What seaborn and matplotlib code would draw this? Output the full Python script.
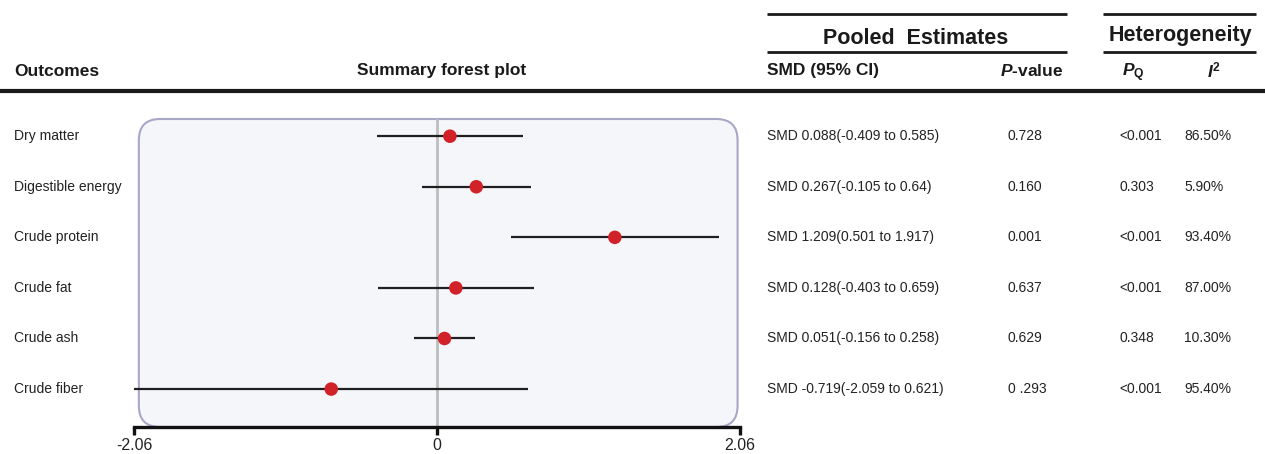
import matplotlib
matplotlib.use("Agg")
import matplotlib.pyplot as plt
from matplotlib.lines import Line2D
from matplotlib.patches import FancyBboxPatch
import matplotlib.transforms as mtransforms
import numpy as np
import pandas as pd
import seaborn as sns

# ---- data ----
outcomes = ["Dry matter", "Digestible energy", "Crude protein",
            "Crude fat", "Crude ash", "Crude fiber"]
smd = [0.088, 0.267, 1.209, 0.128, 0.051, -0.719]
ci_lower = [-0.409, -0.105, 0.501, -0.403, -0.156, -2.059]
ci_upper = [0.585, 0.64, 1.917, 0.659, 0.258, 0.621]
p_values = ["0.728", "0.160", "0.001", "0.637", "0.629", "0 .293"]
p_q = ["<0.001", "0.303", "<0.001", "<0.001", "0.348", "<0.001"]
i_squared = ["86.50%", "5.90%", "93.40%", "87.00%", "10.30%", "95.40%"]
axis_limit = 2.06
axis_ticks = [-2.06, 0, 2.06]
axis_ticklabels = ["-2.06", "0", "2.06"]

df = pd.DataFrame({"outcome": outcomes, "smd": smd,
                   "lower": ci_lower, "upper": ci_upper,
                   "row": np.arange(len(outcomes))})

sns.set_theme(style="white")
plt.rcParams["font.family"] = ["Liberation Sans", "DejaVu Sans"]
plt.rcParams["mathtext.fontset"] = "custom"
plt.rcParams["mathtext.it"] = "Liberation Sans:style=italic:weight=bold"
plt.rcParams["mathtext.bf"] = "Liberation Sans:weight=bold"
plt.rcParams["mathtext.rm"] = "Liberation Sans:weight=bold"

W, H = 1265, 454
fig = plt.figure(figsize=(W / 100, H / 100), dpi=100)


def fx(px):
    return px / W


def fy(py):
    return 1 - py / H


# forest panel
ax_left, ax_right, ax_top, ax_bottom = 134, 740, 119, 427
ax_w, ax_h = ax_right - ax_left, ax_bottom - ax_top
ax = fig.add_axes([fx(ax_left), fy(ax_bottom), ax_w / W, ax_h / H])
ax.set_xlim(-axis_limit, axis_limit)
ax.set_ylim(5.75, -0.34)
ax.set_facecolor("none")

# rounded panel background
panel = FancyBboxPatch((0.008, 0.0), 0.988, 1.0,
                       boxstyle="round,pad=0,rounding_size=0.035",
                       transform=ax.transAxes, facecolor="#f5f6f9",
                       edgecolor="#a9a7c6", linewidth=1.5,
                       mutation_aspect=ax_w / ax_h, zorder=0, clip_on=False)
ax.add_patch(panel)

ax.axvline(0, color="#bdbdbd", linewidth=2, zorder=1)
ax.hlines(df["row"], df["lower"], df["upper"], color="#1f1f1f",
          linewidth=1.6, zorder=2)
sns.scatterplot(data=df, x="smd", y="row", ax=ax, s=95, color="#d12229",
                edgecolor="none", zorder=3, legend=False)

for side in ["top", "left", "right"]:
    ax.spines[side].set_visible(False)
ax.spines["bottom"].set_linewidth(2.4)
ax.spines["bottom"].set_color("#111111")
ax.set_xticks(axis_ticks)
ax.set_xticklabels(axis_ticklabels, fontsize=11.5, color="#222222")
ax.tick_params(axis="x", direction="out", length=6, width=2.4,
               color="#111111", pad=2, bottom=True)
ax.set_yticks([])
ax.set_xlabel("")
ax.set_ylabel("")

# row texts: figure x, data y
trans = mtransforms.blended_transform_factory(fig.transFigure, ax.transData)
txt_kw = dict(fontsize=10, color="#222222", va="center", transform=trans)
for i, row in df.iterrows():
    ax.text(fx(14), row["row"], row["outcome"], ha="left", **txt_kw)
    ax.text(fx(767), row["row"],
            f"SMD {row['smd']:g}({row['lower']:g} to {row['upper']:g})",
            ha="left", **txt_kw)
    ax.text(fx(1008), row["row"], p_values[i], ha="left", **txt_kw)
    ax.text(fx(1119), row["row"], p_q[i], ha="left", **txt_kw)
    ax.text(fx(1184), row["row"], i_squared[i], ha="left", **txt_kw)

# header
hdr = dict(fontsize=12.5, fontweight="bold", color="#1a1a1a", va="center")
fig.text(fx(14), fy(71), "Outcomes", ha="left", **hdr)
fig.text(fx(442), fy(71), "Summary forest plot", ha="center", **hdr)
fig.text(fx(767), fy(71), "SMD (95% CI)", ha="left", **hdr)
fig.text(fx(1063), fy(71), r"$\mathit{P}$-value", ha="right", **hdr)
fig.text(fx(1122), fy(73), r"$\mathit{P}_{\mathrm{Q}}$", ha="left", **hdr)
fig.text(fx(1207), fy(70), r"$\mathit{I}^{\mathrm{2}}$", ha="left", **hdr)

grp = dict(fontsize=15.5, fontweight="bold", color="#1a1a1a", va="center")
fig.text(fx(916), fy(39), "Pooled  Estimates", ha="center", **grp)
fig.text(fx(1180), fy(35), "Heterogeneity", ha="center", **grp)

rules = [((767, 1067), 14, 2.0), ((767, 1067), 52, 2.0),
         ((1103, 1256), 14, 2.0), ((1103, 1256), 52, 2.0),
         ((0, 1265), 91, 3.0)]
for (x0, x1), y, lw in rules:
    fig.add_artist(Line2D([fx(x0), fx(x1)], [fy(y), fy(y)],
                          transform=fig.transFigure, color="#1a1a1a",
                          linewidth=lw, solid_capstyle="butt"))

fig.savefig("out.png", dpi=100, facecolor="white")
